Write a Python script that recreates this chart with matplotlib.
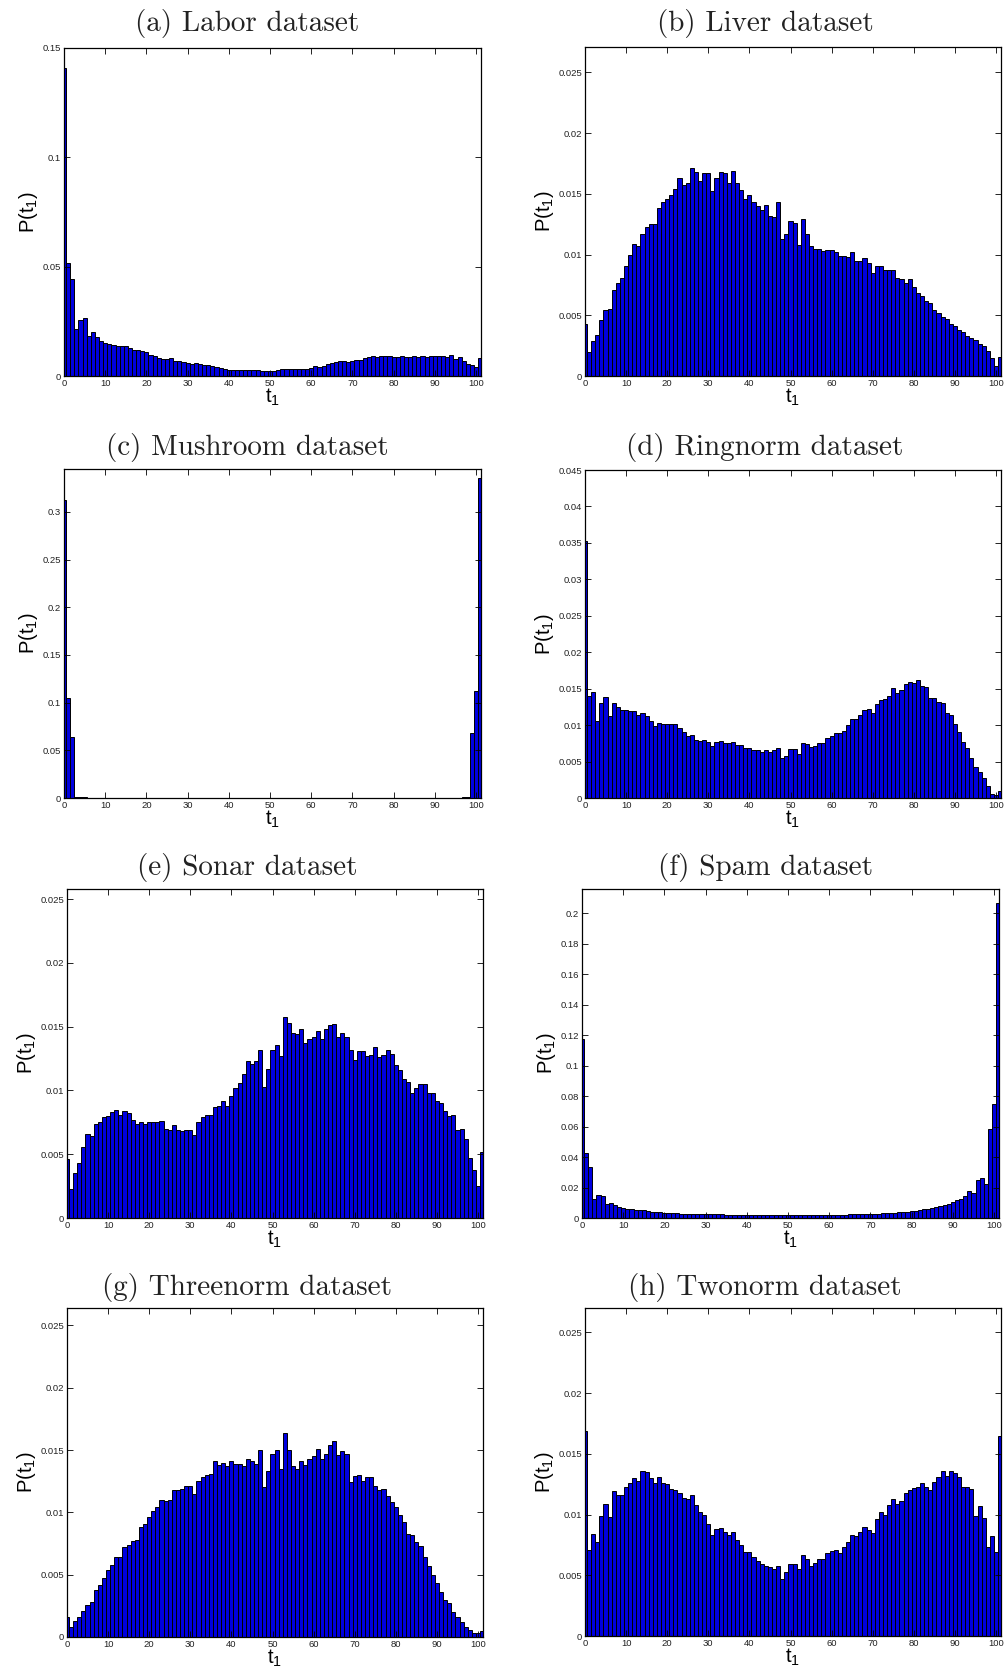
import matplotlib
matplotlib.use('Agg')
import matplotlib.pyplot as plt
import numpy as np
from matplotlib.ticker import FuncFormatter

plt.rcParams['font.family'] = ['Liberation Sans', 'DejaVu Sans']
plt.rcParams['mathtext.default'] = 'regular'

t1 = list(range(102))

labor = [0.141, 0.0518, 0.0442, 0.0214, 0.0255, 0.0266, 0.0182, 0.0202, 0.0179, 0.0161,
         0.0151, 0.0148, 0.0144, 0.0138, 0.0138, 0.0136, 0.013, 0.0118, 0.0118, 0.0115,
         0.011, 0.0095, 0.0092, 0.0084, 0.0078, 0.0076, 0.0081, 0.0069, 0.0067, 0.0064,
         0.006, 0.0055, 0.0058, 0.0055, 0.0049, 0.0049, 0.0046, 0.004, 0.0037, 0.0032,
         0.0029, 0.0028, 0.0028, 0.0027, 0.0027, 0.0027, 0.0027, 0.0028, 0.0021, 0.0021,
         0.0021, 0.0022, 0.0026, 0.0034, 0.0032, 0.0032, 0.0031, 0.0032, 0.003, 0.0034,
         0.0038, 0.0044, 0.0041, 0.0046, 0.0053, 0.0061, 0.0064, 0.0067, 0.0067, 0.0063,
         0.0067, 0.0072, 0.0075, 0.0081, 0.0087, 0.009, 0.0086, 0.009, 0.0093, 0.009,
         0.0086, 0.0089, 0.009, 0.0089, 0.0089, 0.009, 0.0088, 0.009, 0.0089, 0.009,
         0.0091, 0.0091, 0.009, 0.0087, 0.0095, 0.0078, 0.0086, 0.0069, 0.0057, 0.005,
         0.004, 0.0084]

liver = [0.0043, 0.002, 0.0029, 0.0034, 0.0046, 0.0054, 0.0055, 0.0071, 0.0077, 0.0081,
         0.0091, 0.01, 0.0109, 0.0107, 0.0117, 0.0123, 0.0125, 0.0125, 0.0138, 0.0143,
         0.0146, 0.0149, 0.0154, 0.0163, 0.0157, 0.0159, 0.0171, 0.0168, 0.0161, 0.0167,
         0.0167, 0.0152, 0.0163, 0.0168, 0.0167, 0.0159, 0.0169, 0.0159, 0.0153, 0.0146,
         0.0149, 0.0143, 0.014, 0.0137, 0.0141, 0.0132, 0.0131, 0.0143, 0.0113, 0.0117,
         0.0128, 0.0126, 0.0108, 0.0129, 0.0117, 0.0107, 0.0105, 0.0105, 0.0103, 0.0104,
         0.0104, 0.0102, 0.0099, 0.0099, 0.0098, 0.0102, 0.0095, 0.0095, 0.0097, 0.0093,
         0.0085, 0.0091, 0.0091, 0.0087, 0.0087, 0.0087, 0.0081, 0.008, 0.0077, 0.008,
         0.0073, 0.0068, 0.0066, 0.0062, 0.006, 0.0054, 0.0052, 0.0049, 0.0047, 0.0043,
         0.0041, 0.0038, 0.0036, 0.0033, 0.0031, 0.003, 0.0026, 0.0025, 0.0021, 0.0015,
         0.0008, 0.0016]

mushroom = [0.313, 0.105, 0.0638, 0.0012, 0.0012, 0.001, 0.0003, 0.0003, 0.0003, 0.0003,
            0.0003, 0.0003, 0.0003, 0.0003, 0.0003, 0.0003, 0.0003, 0.0003, 0.0003, 0.0003,
            0.0003, 0.0003, 0.0003, 0.0003, 0.0003, 0.0003, 0.0003, 0.0003, 0.0003, 0.0003,
            0.0003, 0.0003, 0.0003, 0.0003, 0.0003, 0.0003, 0.0003, 0.0003, 0.0003, 0.0003,
            0.0003, 0.0003, 0.0003, 0.0003, 0.0003, 0.0003, 0.0003, 0.0003, 0.0003, 0.0003,
            0.0003, 0.0003, 0.0003, 0.0003, 0.0003, 0.0003, 0.0003, 0.0003, 0.0003, 0.0003,
            0.0003, 0.0003, 0.0003, 0.0003, 0.0003, 0.0003, 0.0003, 0.0003, 0.0003, 0.0003,
            0.0003, 0.0003, 0.0003, 0.0003, 0.0003, 0.0003, 0.0003, 0.0003, 0.0003, 0.0003,
            0.0003, 0.0003, 0.0003, 0.0003, 0.0003, 0.0003, 0.0003, 0.0003, 0.0003, 0.0003,
            0.0003, 0.0003, 0.0003, 0.0003, 0.0003, 0.0003, 0.0003, 0.0015, 0.0012, 0.068,
            0.1125, 0.3357]

ringnorm = [0.0353, 0.014, 0.0145, 0.0106, 0.013, 0.0138, 0.0112, 0.013, 0.0125, 0.0121,
            0.0121, 0.012, 0.012, 0.0114, 0.0116, 0.0112, 0.0106, 0.0099, 0.0103, 0.0101,
            0.0102, 0.0102, 0.0102, 0.0096, 0.009, 0.0085, 0.0086, 0.008, 0.0078, 0.008,
            0.0077, 0.0071, 0.0077, 0.0078, 0.0076, 0.0075, 0.0077, 0.0073, 0.0073, 0.0068,
            0.0068, 0.0066, 0.0066, 0.0063, 0.0066, 0.0063, 0.0066, 0.0069, 0.0055, 0.0058,
            0.0067, 0.0067, 0.0061, 0.0076, 0.0074, 0.007, 0.0071, 0.0076, 0.0076, 0.0082,
            0.0085, 0.0089, 0.0089, 0.0092, 0.01, 0.0108, 0.0108, 0.0114, 0.0121, 0.0122,
            0.0116, 0.0129, 0.0135, 0.0136, 0.014, 0.0151, 0.0144, 0.0148, 0.0157, 0.0159,
            0.0158, 0.0162, 0.0153, 0.0152, 0.0137, 0.0137, 0.0132, 0.0131, 0.0116, 0.0114,
            0.0102, 0.0091, 0.0077, 0.0068, 0.0055, 0.0043, 0.0036, 0.0027, 0.0017, 0.0006,
            0.0004, 0.001]

sonar = [0.0046, 0.0023, 0.0035, 0.0043, 0.0056, 0.0066, 0.0064, 0.0074, 0.0075, 0.0079,
         0.008, 0.0083, 0.0085, 0.0081, 0.0084, 0.0082, 0.0077, 0.0074, 0.0075, 0.0074,
         0.0075, 0.0075, 0.0075, 0.0076, 0.007, 0.0069, 0.0073, 0.0069, 0.0068, 0.0069,
         0.0069, 0.0065, 0.0075, 0.0079, 0.0081, 0.0081, 0.0087, 0.0088, 0.0092, 0.0088,
         0.0096, 0.0102, 0.0106, 0.0113, 0.0123, 0.0121, 0.0123, 0.0132, 0.0103, 0.0117,
         0.0132, 0.0136, 0.0127, 0.0158, 0.0153, 0.0145, 0.0144, 0.0148, 0.0137, 0.014,
         0.0142, 0.0147, 0.014, 0.0148, 0.0151, 0.0152, 0.0142, 0.0145, 0.0142, 0.0132,
         0.0124, 0.0131, 0.0131, 0.0127, 0.0128, 0.0134, 0.0126, 0.0128, 0.0132, 0.0129,
         0.012, 0.0116, 0.0109, 0.0107, 0.0098, 0.0102, 0.0105, 0.0105, 0.0098, 0.0098,
         0.0092, 0.009, 0.0084, 0.008, 0.0081, 0.0069, 0.007, 0.0062, 0.0047, 0.0038,
         0.0025, 0.0052]

spam = [0.1174, 0.0429, 0.0335, 0.0127, 0.0153, 0.0145, 0.009, 0.0101, 0.0083, 0.0072,
        0.0068, 0.0061, 0.0057, 0.0055, 0.0053, 0.005, 0.0046, 0.0042, 0.004, 0.0037,
        0.0035, 0.0033, 0.0032, 0.003, 0.0029, 0.0028, 0.0027, 0.0026, 0.0026, 0.0025,
        0.0025, 0.0024, 0.0024, 0.0023, 0.0023, 0.0022, 0.0022, 0.0022, 0.0021, 0.0021,
        0.0021, 0.002, 0.002, 0.002, 0.002, 0.0019, 0.0019, 0.0019, 0.0019, 0.0018,
        0.0018, 0.0018, 0.0019, 0.0019, 0.0019, 0.0019, 0.0019, 0.002, 0.002, 0.002,
        0.002, 0.0021, 0.0021, 0.0022, 0.0022, 0.0023, 0.0024, 0.0024, 0.0025, 0.0026,
        0.0027, 0.0028, 0.0029, 0.003, 0.0032, 0.0033, 0.0035, 0.0037, 0.0039, 0.0042,
        0.0044, 0.0047, 0.005, 0.0057, 0.006, 0.0066, 0.0072, 0.0079, 0.0088, 0.0094,
        0.0105, 0.0116, 0.0127, 0.0145, 0.0175, 0.0164, 0.0252, 0.0263, 0.0226, 0.0587,
        0.0751, 0.2066]

threenorm = [0.0016, 0.0008, 0.0013, 0.0016, 0.0021, 0.0026, 0.0028, 0.0038, 0.0042, 0.0047,
             0.0054, 0.0058, 0.0064, 0.0064, 0.0072, 0.0074, 0.0077, 0.0078, 0.0088, 0.0091,
             0.0096, 0.0101, 0.0104, 0.011, 0.0109, 0.011, 0.0118, 0.0118, 0.0119, 0.0121,
             0.0121, 0.0115, 0.0125, 0.0128, 0.013, 0.0131, 0.0141, 0.0138, 0.014, 0.0137,
             0.0141, 0.0139, 0.0139, 0.0137, 0.0143, 0.0141, 0.0139, 0.015, 0.012, 0.0133,
             0.0147, 0.015, 0.0135, 0.0164, 0.015, 0.0137, 0.0135, 0.0141, 0.0138, 0.0143,
             0.0145, 0.0151, 0.0143, 0.0147, 0.0154, 0.0157, 0.0146, 0.0149, 0.0147, 0.0124,
             0.0129, 0.013, 0.0125, 0.0128, 0.0128, 0.0121, 0.0118, 0.0119, 0.0113, 0.0108,
             0.0104, 0.0098, 0.0092, 0.0083, 0.0082, 0.0076, 0.0073, 0.0064, 0.0057, 0.005,
             0.0043, 0.0036, 0.003, 0.0027, 0.002, 0.0016, 0.0012, 0.0008, 0.0006, 0.0003,
             0.0003, 0.0005]

twonorm = [0.0169, 0.0071, 0.0084, 0.0077, 0.0099, 0.0109, 0.0098, 0.0119, 0.0116, 0.0116,
           0.0123, 0.0126, 0.013, 0.0128, 0.0136, 0.0135, 0.013, 0.0126, 0.0131, 0.0126,
           0.0125, 0.0121, 0.012, 0.0118, 0.0114, 0.0113, 0.0116, 0.0108, 0.0102, 0.01,
           0.0092, 0.0083, 0.0088, 0.0089, 0.0086, 0.0083, 0.0086, 0.0079, 0.0075, 0.0069,
           0.0069, 0.0065, 0.0062, 0.0059, 0.0058, 0.0057, 0.0055, 0.0058, 0.0047, 0.0053,
           0.0059, 0.0059, 0.0055, 0.0067, 0.0063, 0.0058, 0.006, 0.0063, 0.0063, 0.0068,
           0.007, 0.0071, 0.0068, 0.0073, 0.0077, 0.0083, 0.0082, 0.0086, 0.009, 0.0087,
           0.0085, 0.0096, 0.0102, 0.01, 0.0108, 0.0113, 0.0109, 0.0111, 0.0118, 0.012,
           0.0122, 0.0123, 0.0126, 0.0123, 0.012, 0.0127, 0.0131, 0.0136, 0.0132, 0.0136,
           0.0134, 0.0131, 0.0123, 0.0123, 0.0121, 0.0099, 0.0107, 0.0097, 0.0073, 0.0082,
           0.0069, 0.0165]

titles = ['(a) Labor dataset', '(b) Liver dataset', '(c) Mushroom dataset',
          '(d) Ringnorm dataset', '(e) Sonar dataset', '(f) Spam dataset',
          '(g) Threenorm dataset', '(h) Twonorm dataset']
series = [labor, liver, mushroom, ringnorm, sonar, spam, threenorm, twonorm]
ymax = [0.15, 0.0271, 0.345, 0.045, 0.0258, 0.216, 0.0264, 0.027]
ystep = [0.05, 0.005, 0.05, 0.005, 0.005, 0.02, 0.005, 0.005]
xticks = list(range(0, 101, 10))

W, H = 1008, 1675
axes_px = [(64, 48, 481, 376), (585, 47, 1001, 376),
           (64, 469, 481, 798), (585, 470, 1001, 798),
           (67, 889, 483, 1218), (582, 889, 999, 1218),
           (67, 1308, 483, 1637), (585, 1308, 1001, 1636)]
title_xy = [(247, 23), (765, 23), (247, 447), (765, 447),
            (247, 868), (765, 868), (247, 1287), (765, 1287)]

fig = plt.figure(figsize=(W / 100, H / 100), dpi=100)
fmt = FuncFormatter(lambda v, p: '%g' % round(v, 5))

for i in range(8):
    l, t, r, b = axes_px[i]
    ax = fig.add_axes([l / W, 1 - b / H, (r - l) / W, (b - t) / H])
    ax.bar(t1, series[i], width=1.0, color='#0000e0', edgecolor='black',
           linewidth=0.7, align='center')
    ax.set_xlim(0, 101.2)
    ax.set_ylim(0, ymax[i])
    ax.set_xticks(xticks)
    ax.set_yticks(np.arange(0, ymax[i] + 1e-9, ystep[i]))
    ax.yaxis.set_major_formatter(fmt)
    ax.tick_params(direction='in', top=True, right=True, length=4, width=0.6,
                   labelsize=6.8, pad=2, colors='black', labelcolor='#222222')
    for s in ax.spines.values():
        s.set_linewidth(0.9)
    ax.set_xlabel('t$_1$', fontsize=14.5, labelpad=-1)
    ax.set_ylabel('P(t$_1$)', fontsize=14.5, labelpad=2)
    tx, ty = title_xy[i]
    fig.text(tx / W, 1 - ty / H, titles[i], ha='center', va='center',
             fontsize=21, family='cmr10', color='#222222')

fig.savefig('out.png', dpi=100)
